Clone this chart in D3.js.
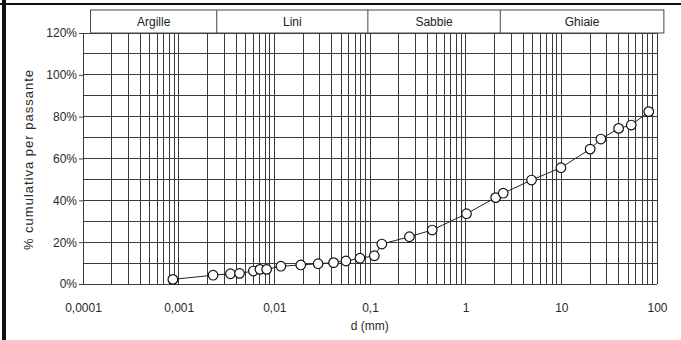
<!DOCTYPE html>
<html>
<head>
<meta charset="utf-8">
<script src="https://cdn.jsdelivr.net/npm/d3@7"></script>
<style>
  body { margin: 0; background: #fff; }
  svg { display: block; font-family: "Liberation Sans", Arial, sans-serif; }
  .grid line { stroke: #3a3a3a; stroke-width: 1; shape-rendering: crispEdges; }
  .axis text { fill: #2a2a2a; font-size: 12px; }
  .axis path, .axis line { stroke: #444; }
</style>
</head>
<body>
<div id="chart"></div>
<script>
// grain size (mm) and cumulative % passing
const diameters = [0.00087, 0.00229, 0.00348, 0.00433, 0.00603, 0.00707, 0.00831, 0.0117,
  0.0189, 0.0287, 0.0416, 0.056, 0.0785, 0.111, 0.133, 0.258, 0.447, 1.02,
  2.06, 2.47, 4.88, 9.9, 20.0, 25.9, 39.7, 53.8, 81.9];
const passing = [2.2, 4.2, 4.9, 5.1, 6.2, 7.0, 7.0, 8.5,
  9.1, 9.7, 10.2, 11.0, 12.3, 13.5, 19.1, 22.6, 25.8, 33.6,
  41.3, 43.4, 49.7, 55.6, 64.5, 69.3, 74.4, 76.0, 82.4];

const xTicks = [0.0001, 0.001, 0.01, 0.1, 1, 10, 100];
const xTickLabels = ["0,0001", "0,001", "0,01", "0,1", "1", "10", "100"];
const yTicks = [0, 20, 40, 60, 80, 100, 120];

const zoneNames = ["Argille", "Lini", "Sabbie", "Ghiaie"];
const zoneBounds = [0.00012, 0.0025, 0.095, 2.3, 118];

const W = 681, H = 340;
const margin = {top: 33, right: 24, bottom: 56, left: 83};
const width = W - margin.left - margin.right;
const height = H - margin.top - margin.bottom;

const svg = d3.select("#chart").append("svg")
  .attr("width", W)
  .attr("height", H);

// scan frame
svg.append("line").attr("x1", 0).attr("x2", W).attr("y1", 4).attr("y2", 4)
  .attr("stroke", "#111").attr("stroke-width", 2);
svg.append("rect").attr("x", 2).attr("y", 0).attr("width", 4).attr("height", H).attr("fill", "#111");

const chart = svg.append("g")
  .attr("transform", `translate(${margin.left},${margin.top})`);

const x = d3.scaleLog().domain([0.0001, 100]).range([0, width]);
const y = d3.scaleLinear().domain([0, 120]).range([height, 0]);

// grid: log minor lines and 10% rows
const vLines = [];
for (let e = -4; e < 2; e++) {
  for (let m = 1; m <= 9; m++) vLines.push(m * Math.pow(10, e));
}
vLines.push(100);
const hLines = d3.range(0, 121, 10);

const grid = chart.append("g").attr("class", "grid");
grid.selectAll(".v").data(vLines).join("line")
  .attr("class", "v")
  .attr("x1", d => x(d)).attr("x2", d => x(d))
  .attr("y1", y(0)).attr("y2", y(120))
  .attr("stroke-width", d => Math.abs(Math.log10(d) - Math.round(Math.log10(d))) < 1e-9 ? 1.3 : 1);
grid.selectAll(".h").data(hLines).join("line")
  .attr("class", "h")
  .attr("x1", 0).attr("x2", width)
  .attr("y1", d => y(d)).attr("y2", d => y(d));

// soil classes header
const header = chart.append("g");
const headH = 23;
header.append("rect")
  .attr("x", x(zoneBounds[0])).attr("y", -headH)
  .attr("width", x(zoneBounds[4]) - x(zoneBounds[0])).attr("height", headH)
  .attr("fill", "none").attr("stroke", "#444");
header.selectAll(".div").data(zoneBounds.slice(1, 4)).join("line")
  .attr("class", "div")
  .attr("x1", d => x(d)).attr("x2", d => x(d))
  .attr("y1", -headH).attr("y2", 0)
  .attr("stroke", "#444");
header.selectAll(".zl").data(zoneNames).join("text")
  .attr("class", "zl")
  .attr("x", (d, i) => (x(zoneBounds[i]) + x(zoneBounds[i + 1])) / 2)
  .attr("y", -7)
  .attr("text-anchor", "middle")
  .attr("font-size", 12)
  .attr("fill", "#222")
  .text(d => d);

// axes
chart.append("g")
  .attr("class", "axis")
  .attr("transform", `translate(0,${height})`)
  .call(d3.axisBottom(x).tickValues(xTicks).tickFormat((d, i) => xTickLabels[i]).tickSize(0).tickPadding(19))
  .call(g => g.select(".domain").remove());

chart.append("g")
  .attr("class", "axis")
  .call(d3.axisLeft(y).tickValues(yTicks).tickFormat(d => d + "%").tickSize(4).tickPadding(2))
  .call(g => g.select(".domain").remove());

// axis titles
chart.append("text")
  .attr("x", x(1) - 96).attr("y", height + 46)
  .attr("font-size", 12).attr("fill", "#2a2a2a")
  .attr("text-anchor", "middle")
  .text("d (mm)");

chart.append("text")
  .attr("transform", `translate(${-margin.left + 33},${height / 2 + 1}) rotate(-90)`)
  .attr("font-size", 13).attr("letter-spacing", 1).attr("fill", "#2a2a2a")
  .attr("text-anchor", "middle")
  .text("% cumulativa per passante");

// curve
const pts = diameters.map((d, i) => ({d: d, p: passing[i]}));
chart.append("path")
  .datum(pts)
  .attr("fill", "none")
  .attr("stroke", "#222")
  .attr("stroke-width", 1)
  .attr("d", d3.line().x(d => x(d.d)).y(d => y(d.p)));

chart.selectAll(".pt").data(pts).join("circle")
  .attr("class", "pt")
  .attr("cx", d => x(d.d)).attr("cy", d => y(d.p))
  .attr("r", 4.8)
  .attr("fill", "#fff")
  .attr("stroke", "#111")
  .attr("stroke-width", 1.2);
</script>
</body>
</html>
